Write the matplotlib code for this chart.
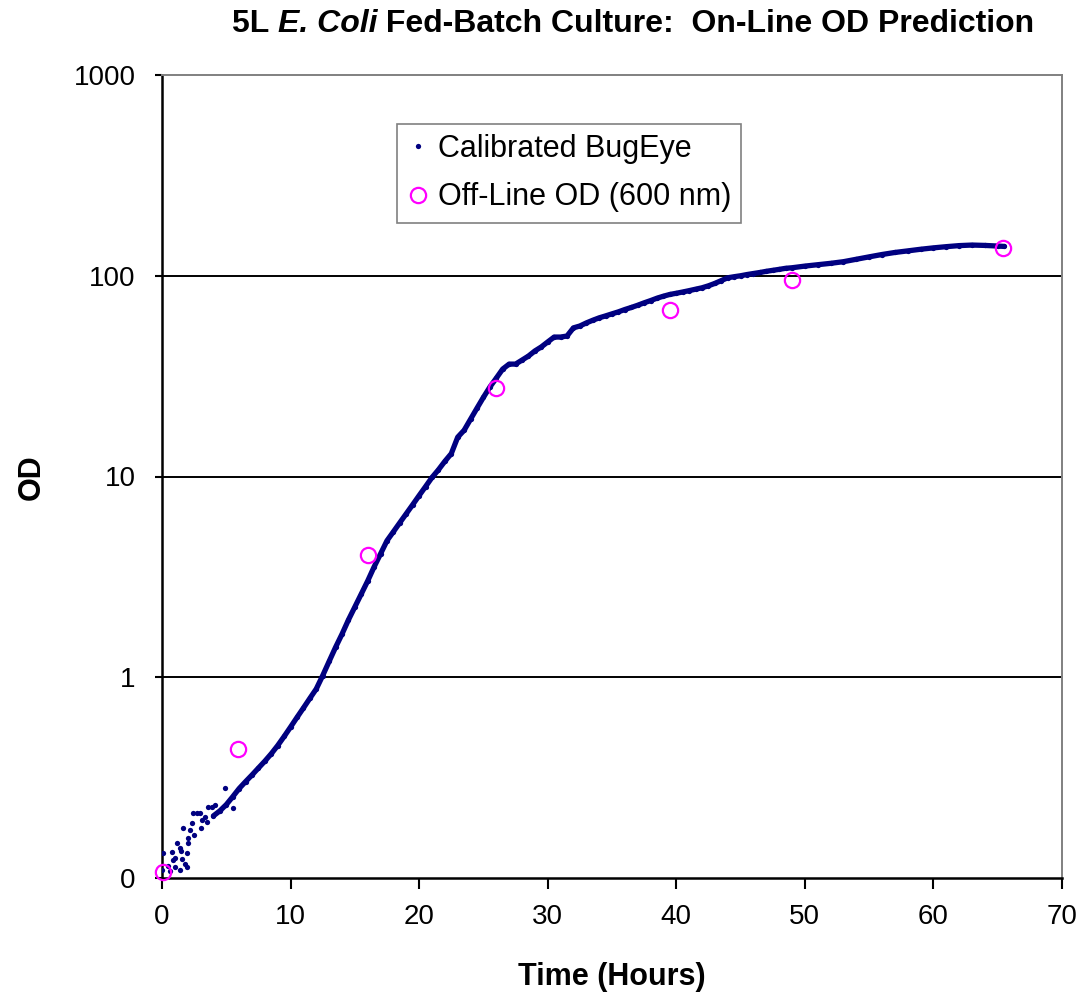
import matplotlib
matplotlib.use("Agg")
import matplotlib.pyplot as plt
from matplotlib.lines import Line2D

plt.rcParams['font.family'] = ['Liberation Sans', 'DejaVu Sans']

# Calibrated BugEye (on-line) readings: time (h), OD
bugeye_time = [0.0, 0.5, 1.0, 1.5, 2.0, 2.5, 3.0, 3.5, 4.0, 4.5, 5.0, 5.5, 6.0, 6.5,
               7.0, 7.5, 8.0, 8.5, 9.0, 9.5, 10.0, 10.5, 11.0, 11.5, 12.0, 12.5, 13.0,
               13.5, 14.0, 14.5, 15.0, 15.5, 16.0, 16.5, 17.0, 17.5, 18.0, 18.5, 19.0,
               19.5, 20.0, 20.5, 21.0, 21.5, 22.0, 22.5, 23.0, 23.5, 24.0, 24.5, 25.0,
               25.5, 26.0, 26.5, 27.0, 27.5, 28.0, 28.5, 29.0, 29.5, 30.0, 30.5, 31.0,
               31.5, 32.0, 32.5, 33.0, 33.5, 34.0, 34.5, 35.0, 35.5, 36.0, 36.5, 37.0,
               37.5, 38.0, 38.5, 39.0, 39.5, 40.0, 40.5, 41.0, 41.5, 42.0, 42.5, 43.0,
               43.5, 44.0, 44.5, 45.0, 45.5, 46.0, 46.5, 47.0, 47.5, 48.0, 48.5, 49.0,
               50.0, 51.0, 52.0, 53.0, 54.0, 55.0, 56.0, 57.0, 58.0, 59.0, 60.0, 61.0,
               62.0, 63.0, 64.0, 65.0, 65.5]
bugeye_od = [0.110, 0.115, 0.126, 0.136, 0.150, 0.164, 0.178, 0.191, 0.204, 0.216,
             0.232, 0.254, 0.279, 0.302, 0.326, 0.353, 0.382, 0.416, 0.457, 0.507,
             0.565, 0.631, 0.703, 0.785, 0.875, 1.02, 1.20, 1.41, 1.64, 1.93, 2.24,
             2.60, 3.02, 3.55, 4.12, 4.79, 5.31, 5.89, 6.53, 7.24, 8.04, 8.91, 9.89,
             10.8, 11.9, 13.0, 15.7, 17.0, 19.3, 21.9, 24.8, 27.9, 30.9, 34.3, 36.3,
             36.3, 38.0, 39.8, 42.2, 44.2, 46.8, 49.5, 49.5, 50.1, 55.0, 56.2, 58.2,
             60.0, 61.7, 63.1, 64.6, 66.1, 67.9, 69.5, 71.3, 73.3, 75.2, 77.3, 79.1,
             80.7, 81.8, 83.0, 84.3, 85.7, 87.1, 89.1, 91.6, 94.6, 97.7, 98.9, 100.0,
             101.4, 102.6, 103.8, 105.2, 106.4, 107.6, 108.9, 109.6, 111.7, 113.5,
             115.3, 117.5, 120.8, 124.2, 127.6, 130.6, 133.0, 135.5, 137.7, 139.6,
             141.3, 142.2, 141.6, 140.6, 140.0]

# Noisy early BugEye readings (scatter around the curve)
noise_time = [0.1, 0.62, 0.75, 0.88, 1.01, 1.14, 1.40, 1.40, 1.53, 1.66, 1.79, 1.92,
              1.92, 2.05, 2.18, 2.31, 2.44, 2.70, 2.96, 3.09, 3.34, 3.60, 3.86, 4.12,
              4.90, 5.55]
noise_od = [0.133, 0.108, 0.135, 0.123, 0.114, 0.149, 0.141, 0.110, 0.125, 0.177,
            0.118, 0.133, 0.114, 0.158, 0.173, 0.187, 0.210, 0.210, 0.210, 0.194,
            0.202, 0.226, 0.226, 0.231, 0.280, 0.222]

# Off-line OD (600 nm) samples
offline_time = [0.1, 5.9, 16.0, 26.0, 39.5, 49.0, 65.4]
offline_od = [0.107, 0.44, 4.06, 27.6, 67.5, 95.0, 137.0]

y_ticks = [0.1, 1, 10, 100, 1000]
y_tick_labels = ["0", "1", "10", "100", "1000"]
x_ticks = [0, 10, 20, 30, 40, 50, 60, 70]

W, H = 1088, 1002
fig = plt.figure(figsize=(W / 100, H / 100), dpi=100)
L, R, T, B = 162, 1062, 75, 878
ax = fig.add_axes([L / W, 1 - B / H, (R - L) / W, (B - T) / H])

navy = "#000080"
magenta = "#FF00FF"

ax.set_yscale("log")
ax.set_xlim(0, 70)
ax.set_ylim(0.1, 1000)

for yv in [1, 10, 100]:
    ax.axhline(yv, color="black", lw=1.4, zorder=1)

ax.plot(bugeye_time[8:], bugeye_od[8:], "-", color=navy, lw=3.8, zorder=3,
        solid_capstyle="round")
ax.plot(bugeye_time, bugeye_od, "o", color=navy, ms=3.8, mew=0, zorder=3)
ax.plot(noise_time, noise_od, "o", color=navy, ms=3.8, mew=0, zorder=3)
ax.plot(offline_time, offline_od, "o", ms=11, mfc="none", mec=magenta, mew=1.6,
        zorder=4, clip_on=False)

ax.set_yticks(y_ticks)
ax.set_yticklabels(y_tick_labels)
ax.yaxis.set_minor_locator(matplotlib.ticker.NullLocator())
ax.set_xticks(x_ticks)
ax.tick_params(axis="both", direction="out", width=1.5, colors="black")
ax.tick_params(axis="x", length=8, pad=11, labelsize=20)
ax.tick_params(axis="y", length=5, pad=14, labelsize=20)

for s in ["left", "bottom"]:
    ax.spines[s].set_color("black")
    ax.spines[s].set_linewidth(1.8)
for s in ["top", "right"]:
    ax.spines[s].set_color("#808080")
    ax.spines[s].set_linewidth(1.4)

fig.text(612 / W, 1 - 977 / H, "Time (Hours)", ha="center", va="center",
         fontsize=22, fontweight="bold")
fig.text(32 / W, 1 - 477 / H, "OD", ha="center", va="center", rotation=90,
         fontsize=22, fontweight="bold")

# Title with italic organism name, pieces chained left to right
t1 = fig.text(232 / W, 1 - 24 / H, "5L ", ha="left", va="center",
              fontsize=23, fontweight="bold")
t2 = ax.annotate("E. Coli", xy=(1, 0), xycoords=t1, ha="left", va="bottom",
                 fontsize=23, fontweight="bold", fontstyle="italic")
t3 = ax.annotate(" Fed-Batch Culture:  On-Line OD Prediction", xy=(1, 0), xycoords=t2,
                 ha="left", va="bottom", fontsize=23, fontweight="bold")

handles = [Line2D([], [], ls="none", marker="o", ms=3.8, mew=0, color=navy),
           Line2D([], [], ls="none", marker="o", ms=11, mfc="none", mec=magenta, mew=1.6)]
leg = ax.legend(handles, ["Calibrated BugEye", "Off-Line OD (600 nm)"],
                loc="upper left", bbox_to_anchor=((397 - L) / (R - L), 1 - (124 - T) / (B - T)),
                fontsize=22, frameon=True, fancybox=False, edgecolor="#808080",
                framealpha=1, borderpad=0.33, handletextpad=0.3, handlelength=0.7,
                labelspacing=0.6, borderaxespad=0)
leg.get_frame().set_linewidth(1.2)

fig.savefig("out.png", dpi=100)
